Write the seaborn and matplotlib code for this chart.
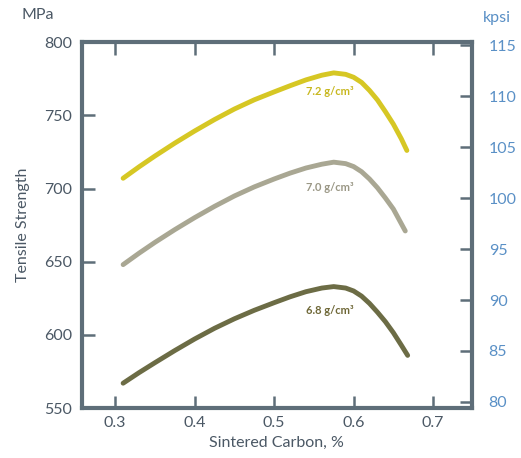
import numpy as np
import pandas as pd
import matplotlib
matplotlib.use("Agg")
import matplotlib.pyplot as plt
import seaborn as sns

sns.set_theme(style="white")
plt.rcParams['font.family'] = ['Lato', 'DejaVu Sans']

# values
carbon_72 = [0.31, 0.33, 0.35, 0.375, 0.40, 0.425, 0.45, 0.475, 0.50, 0.52, 0.54, 0.56,
             0.575, 0.59, 0.60, 0.61, 0.62, 0.63, 0.64, 0.65, 0.66, 0.667]
mpa_72 = [707, 714.8, 722.2, 731, 739.3, 747.1, 754.3, 760.6, 766, 770.2, 774.2, 777.4,
          779, 778, 776, 772.5, 767, 760.5, 752.5, 744, 734, 726]
carbon_70 = [0.31, 0.33, 0.35, 0.375, 0.40, 0.425, 0.45, 0.475, 0.50, 0.52, 0.54, 0.56,
             0.575, 0.59, 0.60, 0.61, 0.62, 0.63, 0.64, 0.65, 0.665]
mpa_70 = [648, 655.8, 663.2, 671.9, 680.1, 687.8, 694.9, 701.1, 706.5, 710.5, 714, 716.6,
          718, 717, 715, 711.5, 706.5, 700.5, 693.5, 686, 671]
carbon_68 = [0.31, 0.33, 0.35, 0.375, 0.40, 0.425, 0.45, 0.475, 0.50, 0.52, 0.54, 0.56,
             0.575, 0.59, 0.60, 0.61, 0.62, 0.63, 0.64, 0.65, 0.66, 0.668]
mpa_68 = [567, 574.2, 581, 589.3, 597.2, 604.5, 611, 616.8, 622, 626, 629.5, 632,
          633, 632, 630, 626.5, 621.5, 615.5, 609, 601.5, 593, 586]

series_labels = ["7.2 g/cm³", "7.0 g/cm³", "6.8 g/cm³"]
x_ticks = [0.3, 0.4, 0.5, 0.6, 0.7]
mpa_ticks = [550, 600, 650, 700, 750, 800]
kpsi_ticks = [80, 85, 90, 95, 100, 105, 110, 115]

line_colors = ["#d6c724", "#a9a793", "#6c6c45"]
text_colors = ["#c8b821", "#9a9785", "#6f6838"]
spine_col = "#5e6e79"
left_col = "#4b5865"
right_col = "#5a90c6"

fig = plt.figure(figsize=(5.21, 4.58), dpi=100)
ax = fig.add_axes([0.157, 0.109, 0.749, 0.799])

series = [(carbon_72, mpa_72), (carbon_70, mpa_70), (carbon_68, mpa_68)]
for (xs, ys), col in zip(series, line_colors):
    sns.lineplot(x=xs, y=ys, ax=ax, color=col, lw=3.5,
                 solid_capstyle='round', solid_joinstyle='round')

# curve labels
label_pos = [(0.5705, 766), (0.5705, 701), (0.5705, 617)]
for (lx, ly), txt, col in zip(label_pos, series_labels, text_colors):
    ax.text(lx, ly, txt, color=col, fontsize=8, ha='center', va='center', fontweight='bold')

ax.set_xlim(0.258, 0.749)
ax.set_ylim(550, 800)
ax.set_xticks(x_ticks)
ax.set_xticklabels([f"{t:.1f}" for t in x_ticks])
ax.set_yticks(mpa_ticks)

for sp in ax.spines.values():
    sp.set_color(spine_col)
    sp.set_linewidth(3)

ax.tick_params(axis='x', which='both', direction='in', top=True, bottom=True,
               length=9, width=1.8, color=spine_col, labelcolor=left_col, labelsize=11.5, pad=6)
ax.tick_params(axis='y', direction='in', left=True, right=False,
               length=9, width=1.8, color=spine_col, labelcolor=left_col, labelsize=11.5, pad=7)

ax.set_xlabel("Sintered Carbon, %", color=left_col, fontsize=11.5, labelpad=4)
ax.set_ylabel("Tensile Strength", color=left_col, fontsize=11.5, labelpad=10)

ax2 = ax.twinx()
ax2.set_ylim(79.4, 115.3)
ax2.set_yticks(kpsi_ticks)
ax2.set_yticklabels(["80", "85", "90", "95", "100", "105", "110", "115"])
for sp in ax2.spines.values():
    sp.set_visible(False)
ax2.tick_params(axis='y', direction='in', right=True, left=False,
                length=9, width=1.8, color=spine_col, labelcolor=right_col, labelsize=11.5, pad=12)
ax2.grid(False)

fig.text(38 / 521, 1 - 15 / 458, "MPa", color=left_col, fontsize=11.5, ha='center', va='center')
fig.text(497 / 521, 1 - 18 / 458, "kpsi", color=right_col, fontsize=11.5, ha='center', va='center')

fig.savefig("out.png", dpi=100)
